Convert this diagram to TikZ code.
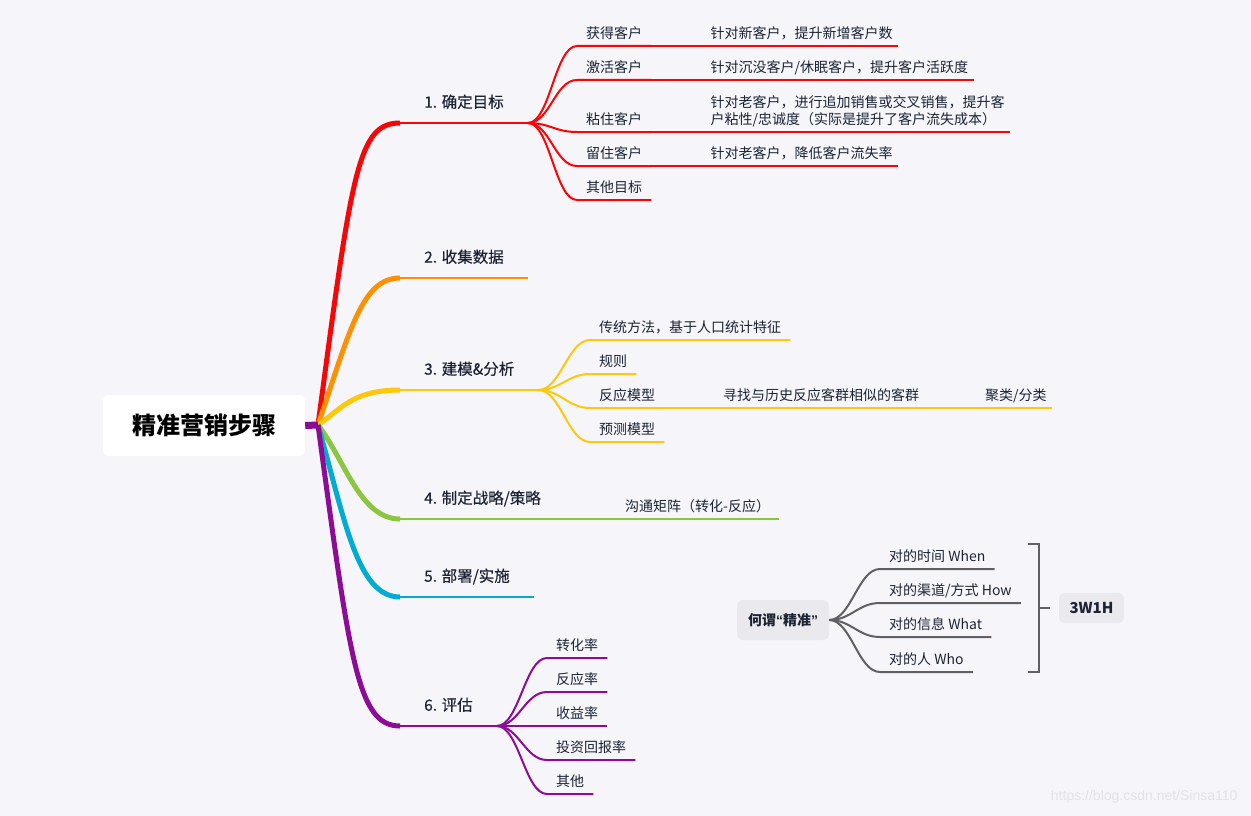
\documentclass[tikz,border=0pt]{standalone}
\usepackage{fontspec}
\setmainfont{Noto Sans CJK SC}
\newfontfamily\topicfont[FakeBold=0.4]{Noto Sans CJK SC}
\newfontfamily\urlfont{Liberation Sans}

\definecolor{bg}{RGB}{245,245,250}
\definecolor{ink}{RGB}{28,36,52}
\definecolor{cred}{RGB}{250,5,5}
\definecolor{corange}{RGB}{255,145,0}
\definecolor{cyellow}{RGB}{255,200,10}
\definecolor{cgreen}{RGB}{140,198,65}
\definecolor{ccyan}{RGB}{0,172,210}
\definecolor{cpurple}{RGB}{140,12,150}
\definecolor{cgray}{RGB}{95,95,100}
\definecolor{tagfill}{RGB}{233,233,238}
\definecolor{wm}{RGB}{226,226,232}

\begin{document}
\begin{tikzpicture}
[x=1pt, y=-1pt,
% STYLES
% The root style is used for the central topic
root/.style={fill=white, rounded corners=6pt, minimum width=202pt, minimum height=61pt, text=black, font=\bfseries\fontsize{24}{28}\selectfont},
% The topic style is used for the six steps, sub and detail for the items under them
topic/.style={anchor=south west, inner xsep=24pt, inner ysep=12.1pt, text depth=3pt, text=ink, font=\topicfont\fontsize{15.5}{18}\selectfont},
sub/.style={anchor=south west, inner xsep=9pt, inner ysep=4.7pt, text depth=3pt, text=ink, font=\fontsize{14}{17}\selectfont},
detail/.style={sub, inner xsep=5.5pt, align=left},
tag/.style={fill=tagfill, rounded corners=6pt, text=ink, font=\bfseries\fontsize{14}{17}\selectfont},
% Line widths
branch/.style={line width=5pt},
under/.style={line width=2.5pt},
twig/.style={line width=2pt},
leaf/.style={line width=1.2pt}]

\useasboundingbox[fill=bg] (0,0) rectangle (1251,816);

% Draw topics
\node [root] (root) at (204,425.5) {精准营销步骤};
\coordinate (hub) at (318,425);
\node [topic] (t1) at (400,123) {1. 确定目标};
\node [topic] (t2) at (400,278) {2. 收集数据};
\node [topic] (t3) at (400,390) {3. 建模\&分析};
\node [topic] (t4) at (400,519) {4. 制定战略/策略};
\node [topic] (t5) at (400,597) {5. 部署/实施};
\node [topic] (t6) at (400,726) {6. 评估};

% Draw branches
\draw [branch, cred] (hub) .. controls (352,170) and (358,123) .. (t1.south west);
\draw [branch, corange] (hub) .. controls (350,330) and (362,278) .. (t2.south west);
\draw [branch, cyellow] (hub) .. controls (340,410) and (352,390) .. (t3.south west);
\draw [branch, cgreen] (hub) .. controls (345,460) and (360,519) .. (t4.south west);
\draw [branch, ccyan] (hub) .. controls (345,520) and (357,597) .. (t5.south west);
\draw [branch, cpurple] (hub) .. controls (350,660) and (357,726) .. (t6.south west);
\draw [line width=7pt, cpurple] (root.east) -- (hub);

\draw [under, cred] (t1.south west) -- (t1.south east);
\draw [under, corange] (t2.south west) -- (t2.south east);
\draw [under, cyellow] (t3.south west) -- (t3.south east);
\draw [under, cgreen] (t4.south west) -- (t4.south east);
\draw [under, ccyan] (t5.south west) -- (t5.south east);
\draw [under, cpurple] (t6.south west) -- (t6.south east);

% 1. goals
\node [sub] (a1) at (577,46) {获得客户};
\node [sub] (a2) at (577,80) {激活客户};
\node [sub] (a3) at (577,132) {粘住客户};
\node [sub] (a4) at (577,166) {留住客户};
\node [sub] (a5) at (577,200) {其他目标};
\draw [twig, cred] (t1.south east) .. controls +(22,0) and +(-22,0) .. (a1.south west) -- (a1.south east);
\draw [twig, cred] (t1.south east) .. controls +(22,0) and +(-22,0) .. (a2.south west) -- (a2.south east);
\draw [twig, cred] (t1.south east) .. controls +(22,0) and +(-22,0) .. (a3.south west) -- (a3.south east);
\draw [twig, cred] (t1.south east) .. controls +(22,0) and +(-22,0) .. (a4.south west) -- (a4.south east);
\draw [twig, cred] (t1.south east) .. controls +(22,0) and +(-22,0) .. (a5.south west) -- (a5.south east);

\node [detail] (d1) at (705,46) {针对新客户，提升新增客户数};
\node [detail] (d2) at (705,80) {针对沉没客户/休眠客户，提升客户活跃度};
\node [detail] (d3) at (705,132) {针对老客户，进行追加销售或交叉销售，提升客\\户粘性/忠诚度（实际是提升了客户流失成本）};
\node [detail] (d4) at (705,166) {针对老客户，降低客户流失率};
\draw [leaf, cred] (a1.south east) -- (d1.south west) -- (d1.south east);
\draw [leaf, cred] (a2.south east) -- (d2.south west) -- (d2.south east);
\draw [leaf, cred] (a3.south east) -- (d3.south west) -- (d3.south east);
\draw [leaf, cred] (a4.south east) -- (d4.south west) -- (d4.south east);

% 3. models
\node [sub] (b1) at (590,340) {传统方法，基于人口统计特征};
\node [sub] (b2) at (590,374) {规则};
\node [sub] (b3) at (590,408) {反应模型};
\node [sub] (b4) at (590,442) {预测模型};
\draw [twig, cyellow] (t3.south east) .. controls +(22,0) and +(-22,0) .. (b1.south west) -- (b1.south east);
\draw [twig, cyellow] (t3.south east) .. controls +(22,0) and +(-22,0) .. (b2.south west) -- (b2.south east);
\draw [twig, cyellow] (t3.south east) .. controls +(22,0) and +(-22,0) .. (b3.south west) -- (b3.south east);
\draw [twig, cyellow] (t3.south east) .. controls +(22,0) and +(-22,0) .. (b4.south west) -- (b4.south east);

\node [detail] (e1) at (717.5,408) {寻找与历史反应客群相似的客群};
\node [detail] (e2) at (979.5,408) {聚类/分类};
\draw [leaf, cyellow] (b3.south east) -- (e1.south west) -- (e1.south east) -- (e2.south west) -- (e2.south east);

% 4. strategy
\node [sub] (c1) at (616,519) {沟通矩阵（转化-反应）};
\draw [twig, cgreen] (t4.south east) -- (c1.south west) -- (c1.south east);

% 6. evaluation
\node [sub] (p1) at (547,658) {转化率};
\node [sub] (p2) at (547,692) {反应率};
\node [sub] (p3) at (547,726) {收益率};
\node [sub] (p4) at (547,760) {投资回报率};
\node [sub] (p5) at (547,794) {其他};
\draw [twig, cpurple] (t6.south east) .. controls +(22,0) and +(-22,0) .. (p1.south west) -- (p1.south east);
\draw [twig, cpurple] (t6.south east) .. controls +(22,0) and +(-22,0) .. (p2.south west) -- (p2.south east);
\draw [twig, cpurple] (t6.south east) .. controls +(22,0) and +(-22,0) .. (p3.south west) -- (p3.south east);
\draw [twig, cpurple] (t6.south east) .. controls +(22,0) and +(-22,0) .. (p4.south west) -- (p4.south east);
\draw [twig, cpurple] (t6.south east) .. controls +(22,0) and +(-22,0) .. (p5.south west) -- (p5.south east);

% Floating topic: what is precise
\node [tag, minimum width=92pt, minimum height=40pt] (jz) at (783,620) {何谓{\urlfont“}精准{\urlfont”}};
\node [sub] (g1) at (880,569) {对的时间 When};
\node [sub] (g2) at (880,603) {对的渠道/方式 How};
\node [sub] (g3) at (880,637) {对的信息 What};
\node [sub] (g4) at (880,672) {对的人 Who};
\draw [twig, cgray] (jz.east) .. controls +(22,0) and +(-22,0) .. (g1.south west) -- (g1.south east);
\draw [twig, cgray] (jz.east) .. controls +(22,0) and +(-22,0) .. (g2.south west) -- (g2.south east);
\draw [twig, cgray] (jz.east) .. controls +(22,0) and +(-22,0) .. (g3.south west) -- (g3.south east);
\draw [twig, cgray] (jz.east) .. controls +(22,0) and +(-22,0) .. (g4.south west) -- (g4.south east);

\node [tag, minimum width=65pt, minimum height=30pt, font=\bfseries\fontsize{15}{18}\selectfont] (w) at (1091.5,608) {3W1H};
\draw [twig, cgray] (1028,544) -| (1039,672) -- (1028,672);
\coordinate (brace) at (1039,608);
\draw [twig, cgray] (brace) -- +(11,0);

\node [font=\urlfont\fontsize{14}{16}\selectfont, text=wm, anchor=east] (url) at (1241,797) {https://blog.csdn.net/Sinsa110};

\end{tikzpicture}
\end{document}
